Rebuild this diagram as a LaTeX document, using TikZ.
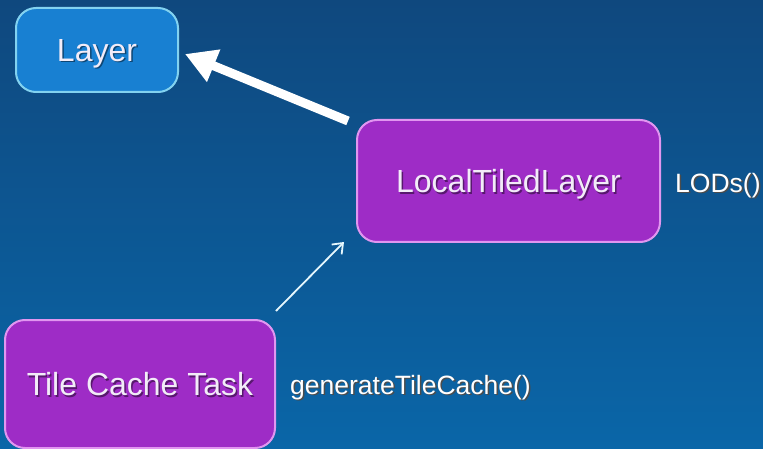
\documentclass[tikz,border=0pt]{standalone}
\usepackage{fontspec}
\setmainfont{Liberation Sans}
\usetikzlibrary{arrows.meta,calc}
\definecolor{bgtop}{RGB}{15,72,126}
\definecolor{bgbot}{RGB}{10,102,168}
\definecolor{layerfill}{RGB}{24,128,210}
\definecolor{layerline}{RGB}{130,210,240}
\definecolor{purpfill}{RGB}{158,44,198}
\definecolor{purpline}{RGB}{225,150,240}
\definecolor{boxtext}{RGB}{242,236,248}
\newcommand{\shadtxt}[2]{\makebox[0pt][l]{\hspace{1.5pt}\raisebox{-1.5pt}{\textcolor{#1}{#2}}}#2}
\tikzset{
  box/.style={rounded corners=20pt, line width=2pt, inner sep=0pt, text depth=0pt,
    font=\fontsize{32}{33}\selectfont, text=boxtext},
  bluebox/.style={box, fill=layerfill, draw=layerline},
  purpbox/.style={box, fill=purpfill, draw=purpline},
  lbl/.style={anchor=west, inner sep=0pt, text=white, font=\fontsize{26.5}{27}\selectfont},
  bigarrow/.style={draw=white, line width=9pt, -{Triangle[length=31pt,width=33pt]}},
  thinarrow/.style={draw=white!90!cyan, line width=1.8pt, -{Straight Barb[length=9pt,width=14pt,line width=1.8pt]}}
}
\begin{document}
\begin{tikzpicture}[x=1pt,y=-1pt]
\useasboundingbox (0,0) rectangle (763,449);
\fill[top color=bgtop, bottom color=bgbot] (0,0) rectangle (763,449);
\node[bluebox, minimum width=162pt, minimum height=84pt] (layer) at (97,50) {\shadtxt{black!45!layerfill}{Layer}};
\node[purpbox, minimum width=303pt, minimum height=122pt] (ltl) at (508.5,181) {\shadtxt{black!45!purpfill}{LocalTiledLayer}};
\node[purpbox, minimum width=270pt, minimum height=128pt] (tcc) at (140,384) {\shadtxt{black!45!purpfill}{Tile Cache Task}};
\node[lbl] (lods) at (675,186) {\shadtxt{black!70}{LODs()}};
\node[lbl] (gen) at (290,388) {\shadtxt{black!70}{generateTileCache()}};
\draw[bigarrow] ($(ltl.north west)+(-8,2)$) -- ($(layer.east)+(6,4)$);
\draw[thinarrow] ($(tcc.north east)+(0,-8)$) -- ($(ltl.south west)+(-12,-1)$);
\end{tikzpicture}
\end{document}
